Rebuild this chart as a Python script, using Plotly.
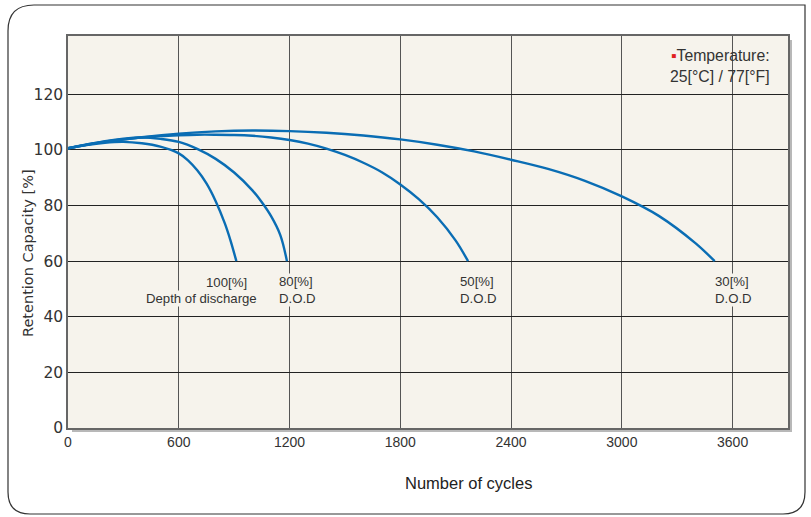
import plotly.graph_objects as go

# ---- data ----
dod100_x = [0, 100, 200, 300, 400, 500, 600, 650, 700, 750, 800, 850, 880, 912]
dod100_y = [100.6, 101.8, 102.6, 102.9, 102.4, 101.2, 98.8, 96.3, 92.7, 88.0, 81.6, 73.5, 67.5, 60]

dod80_x = [0, 100, 200, 300, 400, 500, 600, 700, 800, 900, 1000, 1050, 1100, 1150, 1186]
dod80_y = [100.6, 102.0, 103.2, 104.1, 104.5, 104.0, 102.9, 100.4, 96.8, 91.9, 85.4, 81.2, 76.2, 69.4, 60]

dod50_x = [0, 100, 200, 300, 400, 500, 600, 700, 800, 900, 1000, 1100, 1200, 1300, 1400,
           1500, 1600, 1700, 1800, 1900, 2000, 2100, 2167]
dod50_y = [100.6, 101.9, 103.0, 103.8, 104.5, 105.0, 105.3, 105.5, 105.5, 105.4, 105.1, 104.5,
           103.6, 102.3, 100.5, 98.2, 95.4, 92.0, 87.6, 82.3, 75.8, 67.4, 60]

dod30_x = [0, 200, 400, 600, 800, 1000, 1200, 1400, 1600, 1800, 2000, 2200, 2400, 2600,
           2800, 3000, 3200, 3400, 3503]
dod30_y = [100.6, 102.9, 104.6, 105.9, 106.7, 107.0, 106.8, 106.2, 105.2, 103.8, 101.9, 99.5,
           96.5, 93.2, 88.9, 83.3, 76.3, 66.4, 60]

x_ticks = [0, 600, 1200, 1800, 2400, 3000, 3600]
y_ticks = [0, 20, 40, 60, 80, 100, 120]

BLUE = "#0a6db4"
BG = "#f6f3ec"

fig = go.Figure()
for xs, ys in [(dod100_x, dod100_y), (dod80_x, dod80_y), (dod50_x, dod50_y), (dod30_x, dod30_y)]:
    fig.add_trace(go.Scatter(x=xs, y=ys, mode="lines",
                             line=dict(color=BLUE, width=2.4, shape="spline", smoothing=1.0),
                             showlegend=False, hoverinfo="skip"))

W, H = 811, 517
L, R, T, B = 68, 23, 36, 89
pw, ph = W - L - R, H - T - B

def px(x):
    return (x - L) / pw

def py(y):
    return (H - B - y) / ph

label_font = dict(family="Liberation Sans, Arial, sans-serif", size=13.2, color="#333")
annotations = [
    dict(x=1135, y=49.6, xref="x", yref="y", text="80[%]<br>D.O.D", showarrow=False,
         xanchor="left", align="left", font=label_font, bgcolor=BG, borderpad=0),
    dict(x=2118, y=49.6, xref="x", yref="y", text="50[%]<br>D.O.D", showarrow=False,
         xanchor="left", align="left", font=label_font, bgcolor=BG, borderpad=0),
    dict(x=3500, y=49.6, xref="x", yref="y", text="30[%]<br>D.O.D", showarrow=False,
         xanchor="left", align="left", font=label_font, bgcolor=BG, borderpad=0),
    dict(x=722, y=46.7, xref="x", yref="y", text="Depth of discharge", showarrow=False,
         xanchor="center", font=label_font, bgcolor=BG, borderpad=0),
    dict(x=977, y=52.3, xref="x", yref="y", text="100[%]", showarrow=False,
         xanchor="right", font=label_font, bgcolor=BG, borderpad=0),
    dict(x=px(772), y=py(45), xref="paper", yref="paper",
         text="<span style='color:#e02020'>▪</span>Temperature:<br>25[°C] / 77[°F]",
         showarrow=False, xanchor="right", yanchor="top", align="right",
         font=dict(family="Liberation Sans, Arial, sans-serif", size=15.8, color="#333")),
    dict(x=px(468), y=py(483), xref="paper", yref="paper", text="Number of cycles",
         showarrow=False, xanchor="center", yanchor="middle",
         font=dict(family="Liberation Sans, Arial, sans-serif", size=16.5, color="#222")),
    dict(x=px(28), y=py(253), xref="paper", yref="paper", text="Retention Capacity [%]",
         showarrow=False, textangle=-90, xanchor="center", yanchor="middle",
         font=dict(family="DejaVu Sans, Verdana, sans-serif", size=14.5, color="#333")),
]

r1 = 26
r2 = 22
bl, br, bt, bb = 8, 805, 5, 514
path = (f"M {px(bl)},{py(bt + r1)} Q {px(bl)},{py(bt)} {px(bl + r1)},{py(bt)} "
        f"L {px(br)},{py(bt)} L {px(br)},{py(bb - r2)} "
        f"Q {px(br)},{py(bb)} {px(br - r2)},{py(bb)} "
        f"L {px(bl + r2)},{py(bb)} Q {px(bl)},{py(bb)} {px(bl)},{py(bb - r2)} Z")

shapes = [
    dict(type="path", xref="paper", yref="paper", path=path,
         line=dict(color="#333", width=1.2), fillcolor="rgba(0,0,0,0)", layer="below"),
    dict(type="rect", xref="paper", yref="paper", x0=px(788), x1=px(792), y0=py(432), y1=py(40),
         fillcolor="#b8b8b8", line=dict(width=0), layer="below"),
    dict(type="rect", xref="paper", yref="paper", x0=px(72), x1=px(792), y0=py(432), y1=py(428),
         fillcolor="#b8b8b8", line=dict(width=0), layer="below"),
]

fig.update_layout(
    width=W, height=H,
    margin=dict(l=L, r=R, t=T, b=B, pad=0),
    paper_bgcolor="white",
    plot_bgcolor=BG,
    annotations=annotations,
    shapes=shapes,
    xaxis=dict(range=[0, 3900], tickvals=x_ticks, ticktext=[str(v) for v in x_ticks],
               showgrid=True, gridcolor="#555", gridwidth=1.2, zeroline=False,
               showline=True, linecolor="#666", linewidth=1.5, mirror=True,
               ticks="", ticklabelstandoff=0,
               tickfont=dict(family="Liberation Sans, Arial, sans-serif",
                             size=14, color="#333")),
    yaxis=dict(range=[0, 141], tickvals=y_ticks, showgrid=True, gridcolor="#222", gridwidth=1.2,
               zeroline=False, showline=True, linecolor="#666", linewidth=1.5, mirror=True,
               ticks="", ticklabelstandoff=0,
               tickfont=dict(family="DejaVu Sans, Verdana, sans-serif", size=15.5, color="#333")),
)

fig.write_html("out.html", post_script="document.body.style.margin='0';",
               config={"displayModeBar": False})
